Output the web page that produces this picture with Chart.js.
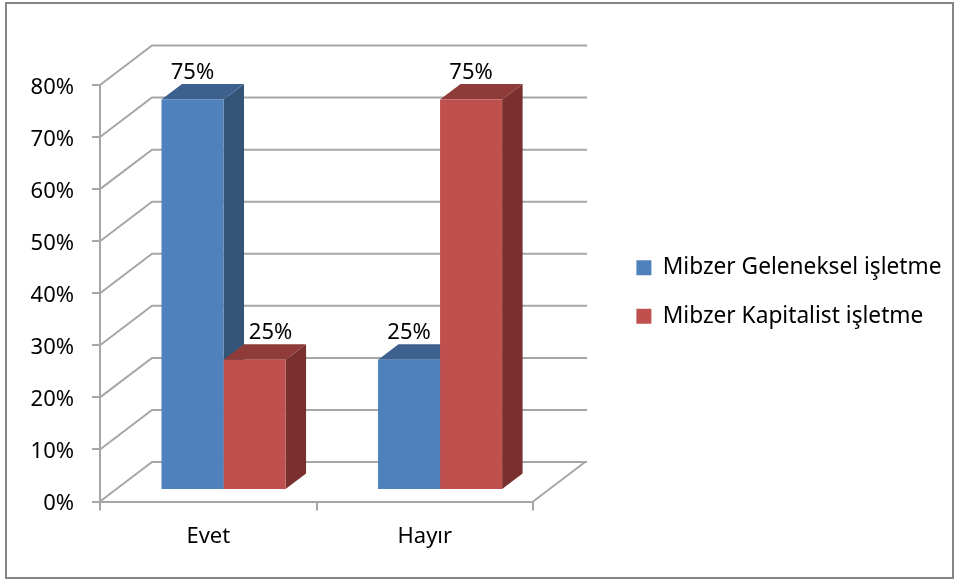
<!DOCTYPE html>
<html>
<head>
<meta charset="utf-8">
<script src="https://cdn.jsdelivr.net/npm/chart.js@4"></script>
<style>
  html, body { margin: 0; background: #fff; }
  canvas { display: block; }
</style>
</head>
<body>
<canvas id="grafik" width="959" height="581"></canvas>
<script>
// Veriler
const categories = ["Evet", "Hayır"];
const seriesNames = ["Mibzer Geleneksel işletme", "Mibzer Kapitalist işletme"];
const geleneksel = [75, 25];
const kapitalist = [25, 75];

// Renkler: on yuz, ust yuz, yan yuz
const frontColors = ["#4F81BD", "#C0504D"];
const topColors = ["#3D618F", "#8E3B39"];
const sideColors = ["#345478", "#7A302E"];

const gridColor = "#A6A6A6";
const fontName = "'Noto Sans'";

// 3B gorunum icin kaydirmalar
const wall = { dx: 52, dy: -39.5 };
const bar3d = { dx: 20.5, dy: -15.5 };
const barShift = { dx: 15.25, dy: -11.5 };

function poly(ctx, pts, color) {
  ctx.fillStyle = color;
  ctx.beginPath();
  pts.forEach((p, i) => i ? ctx.lineTo(p[0], p[1]) : ctx.moveTo(p[0], p[1]));
  ctx.closePath();
  ctx.fill();
}

const sahte3d = {
  id: "sahte3d",
  beforeDraw(chart) {
    // dis cerceve
    const ctx = chart.ctx;
    ctx.save();
    ctx.strokeStyle = "#868686";
    ctx.lineWidth = 2;
    ctx.strokeRect(6, 3, 947, 575);
    ctx.restore();
  },
  beforeDatasetsDraw(chart) {
    const ctx = chart.ctx;
    const y = chart.scales.y;
    const { left, right, bottom } = chart.chartArea;

    // sol duvar ve arka duvar cizgileri
    ctx.save();
    ctx.strokeStyle = gridColor;
    ctx.lineWidth = 2;
    y.ticks.forEach(t => {
      const py = y.getPixelForValue(t.value);
      ctx.beginPath();
      ctx.moveTo(left, py);
      ctx.lineTo(left + wall.dx, py + wall.dy);
      ctx.lineTo(right + wall.dx + 2, py + wall.dy);
      ctx.stroke();
    });
    // zemin sag kenar
    ctx.beginPath();
    ctx.moveTo(right, bottom);
    ctx.lineTo(right + wall.dx, bottom + wall.dy);
    ctx.stroke();
    ctx.restore();

    // sutunlarin yan ve ust yuzleri, on yuzler kutuphaneden geliyor
    ctx.save();
    ctx.translate(barShift.dx, barShift.dy);
    chart.data.datasets.forEach((ds, i) => {
      chart.getDatasetMeta(i).data.forEach(b => {
        const l = b.x - b.width / 2, r = b.x + b.width / 2;
        poly(ctx, [[r, b.y], [r + bar3d.dx, b.y + bar3d.dy], [r + bar3d.dx, b.base + bar3d.dy], [r, b.base]], sideColors[i]);
        poly(ctx, [[l, b.y], [l + bar3d.dx, b.y + bar3d.dy], [r + bar3d.dx, b.y + bar3d.dy], [r, b.y]], topColors[i]);
      });
    });
  },
  afterDatasetsDraw(chart) {
    const ctx = chart.ctx;
    ctx.restore();

    // deger etiketleri
    ctx.save();
    ctx.font = "22px " + fontName;
    ctx.fillStyle = "#000";
    ctx.textAlign = "center";
    ctx.textBaseline = "alphabetic";
    chart.data.datasets.forEach((ds, i) => {
      chart.getDatasetMeta(i).data.forEach((b, j) => {
        let x = b.x + barShift.dx;
        // yanindaki uzun sutunun ustune binmesin
        if (i > 0 && chart.data.datasets[i - 1].data[j] > ds.data[j]) x += 16;
        ctx.fillText(ds.data[j] + "%", x, b.y + barShift.dy + bar3d.dy - 5);
      });
    });
    ctx.restore();
  }
};

new Chart(document.getElementById("grafik"), {
  type: "bar",
  data: {
    labels: categories,
    datasets: [
      { label: seriesNames[0], data: geleneksel, backgroundColor: frontColors[0] },
      { label: seriesNames[1], data: kapitalist, backgroundColor: frontColors[1] }
    ]
  },
  plugins: [sahte3d],
  options: {
    responsive: false,
    animation: false,
    datasets: { bar: { categoryPercentage: 0.573, barPercentage: 1 } },
    layout: { padding: { right: 7.5, top: 3 } },
    plugins: {
      tooltip: { enabled: false },
      legend: {
        position: "right",
        maxWidth: 500,
        labels: {
          color: "#000",
          boxWidth: 15,
          boxHeight: 15,
          padding: 25.8,
          font: { family: fontName, size: 22.7 }
        }
      }
    },
    scales: {
      x: {
        grid: { offset: true, drawOnChartArea: false, color: gridColor, lineWidth: 2, tickLength: 9 },
        border: { color: gridColor, width: 2 },
        ticks: { color: "#000", padding: 13, font: { family: fontName, size: 22 } },
        afterFit: s => { s.height = 79.5; }
      },
      y: {
        min: 0,
        max: 80,
        ticks: { stepSize: 10, color: "#000", padding: 18, labelOffset: 2.5, callback: v => v + "%", font: { family: fontName, size: 22 } },
        grid: { drawOnChartArea: false, color: gridColor, lineWidth: 2, tickLength: 8 },
        border: { color: gridColor, width: 2 },
        afterFit: s => { s.width = 100; }
      },
      // bos eksenler: cizim alanini yerine oturtmak icin
      ustBosluk: {
        type: "linear",
        position: "top",
        ticks: { display: false },
        grid: { display: false },
        border: { display: false },
        afterFit: s => { s.height = 82; }
      },
      sagBosluk: {
        type: "linear",
        position: "right",
        ticks: { display: false },
        grid: { display: false },
        border: { display: false },
        afterFit: s => { s.width = 77.5; }
      }
    }
  }
});
</script>
</body>
</html>
